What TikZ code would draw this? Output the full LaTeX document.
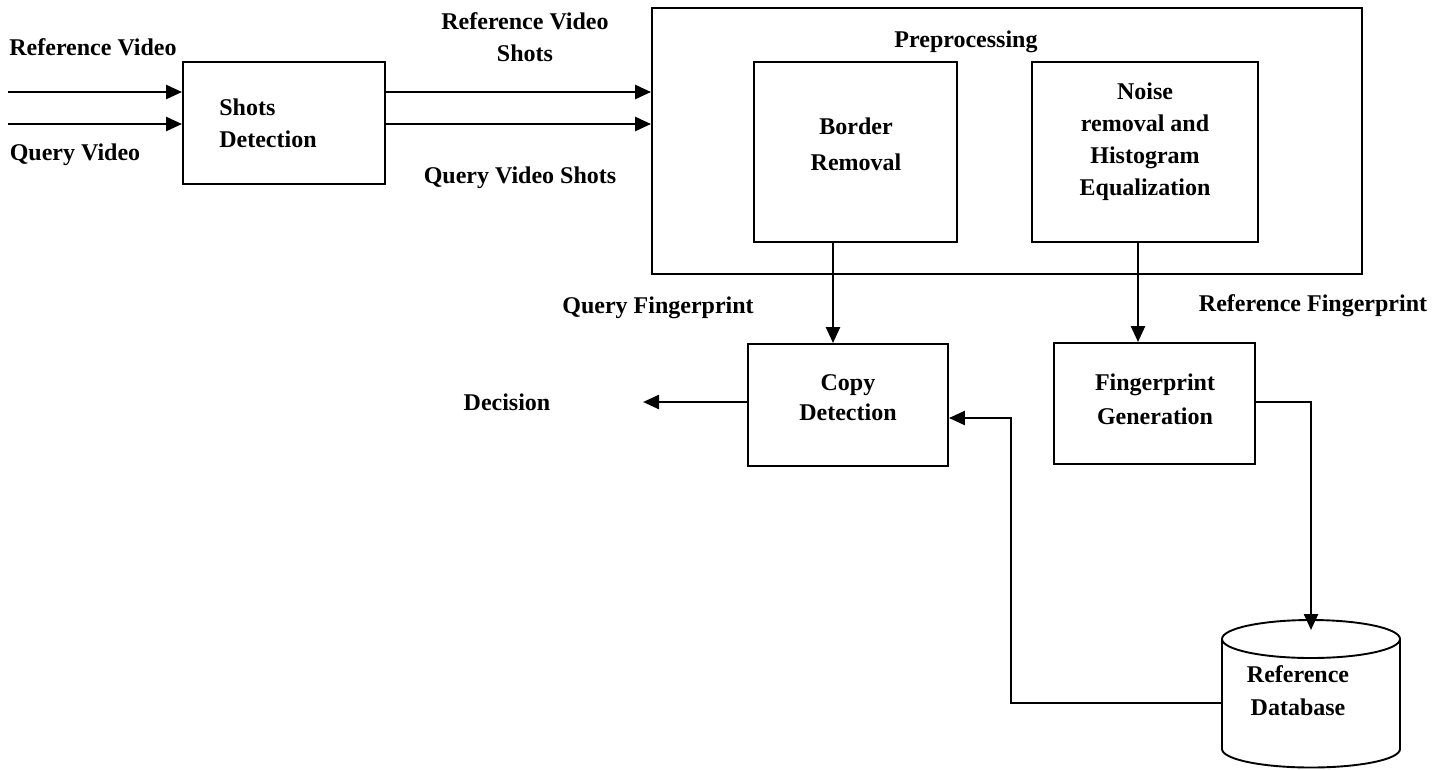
\documentclass[tikz,border=0pt]{standalone}
\usepackage{fontspec}
\setmainfont{Liberation Serif}
\usetikzlibrary{arrows.meta,calc}
\begin{document}
\begin{tikzpicture}[x=1pt,y=1pt,
  box/.style={draw, line width=1.9pt, inner sep=0pt},
  lbl/.style={font=\bfseries\fontsize{24}{32}\selectfont, inner sep=0pt, align=center},
  arr/.style={line width=2.5pt, -{Triangle[length=16pt,width=14pt]}},
  ln/.style={line width=2pt}]
\useasboundingbox (0,0) rectangle (1448,-769);
% boxes
\node[box, minimum width=202pt, minimum height=122pt] (sd) at (284,-123) {};
\node[box, minimum width=710pt, minimum height=266pt] (pp) at (1007,-141) {};
\node[box, minimum width=203pt, minimum height=180pt] (br) at (855.5,-152) {};
\node[box, minimum width=226pt, minimum height=180pt] (nr) at (1145,-152) {};
\node[box, minimum width=200pt, minimum height=122pt] (cd) at (848,-405) {};
\node[box, minimum width=201pt, minimum height=121pt] (fg) at (1154.5,-403.5) {};
% box texts
\node[lbl, align=left] (sdt) at (268,-123) {Shots\\Detection};
\node[lbl] (ppt) at (966,-42) {Preprocessing};
\node[lbl, font=\bfseries\fontsize{24}{36}\selectfont] (brt) at (856,-144) {Border\\Removal};
\node[lbl] (nrt) at (1145,-142) {Noise\\removal and\\Histogram\\Equalization};
\node[lbl, font=\bfseries\fontsize{24}{30}\selectfont] (cdt) at (848,-398) {Copy\\Detection};
\node[lbl, font=\bfseries\fontsize{24}{34}\selectfont] (fgt) at (1155,-399) {Fingerprint\\Generation};
% free labels
\node[lbl] (rv) at (93,-47) {Reference Video};
\node[lbl] (qv) at (75,-155) {Query Video};
\node[lbl] (rvs) at (525,-37) {Reference Video\\Shots};
\node[lbl] (qvs) at (520,-178) {Query Video Shots};
\node[lbl] (qf) at (658,-308) {Query Fingerprint};
\node[lbl] (rf) at (1313,-306) {Reference Fingerprint};
\node[lbl] (dec) at (507,-402) {Decision};
% database cylinder
\draw[line width=1.9pt] (1222,-639) -- (1222,-749)
  arc[start angle=180, end angle=360, x radius=89, y radius=18.5] -- (1400,-639);
\draw[line width=1.9pt] (1311,-639) ellipse[x radius=89, y radius=19];
\node[lbl, font=\bfseries\fontsize{24}{33}\selectfont] (db) at (1298,-691) {Reference\\Database};
\coordinate (dbtop) at (1311,-630);
\coordinate (dbleft) at (1222,-703);
% coordinates
\coordinate (in1) at (8,-92);
\coordinate (in2) at (8,-124);
\coordinate (decend) at (643,-402);
\coordinate (turn) at (1011,-418);
% connectors
\draw[arr] (in1) -- (in1 -| sd.west);
\draw[arr] (in2) -- (in2 -| sd.west);
\draw[arr] (sd.east |- in1) -- (pp.west |- in1);
\draw[arr] (sd.east |- in2) -- (pp.west |- in2);
\draw[arr] ([xshift=-22.5pt]br.south) -- ([xshift=-22.5pt]br.south |- cd.north);
\draw[arr] ([xshift=-7pt]nr.south) -- ([xshift=-7pt]nr.south |- fg.north);
\draw[arr] (cd.west |- decend) -- (decend);
\draw[arr] ([yshift=1.5pt]fg.east) -| (dbtop);
\draw[arr] (dbleft) -| (turn) -- (turn -| cd.east);
\end{tikzpicture}
\end{document}
